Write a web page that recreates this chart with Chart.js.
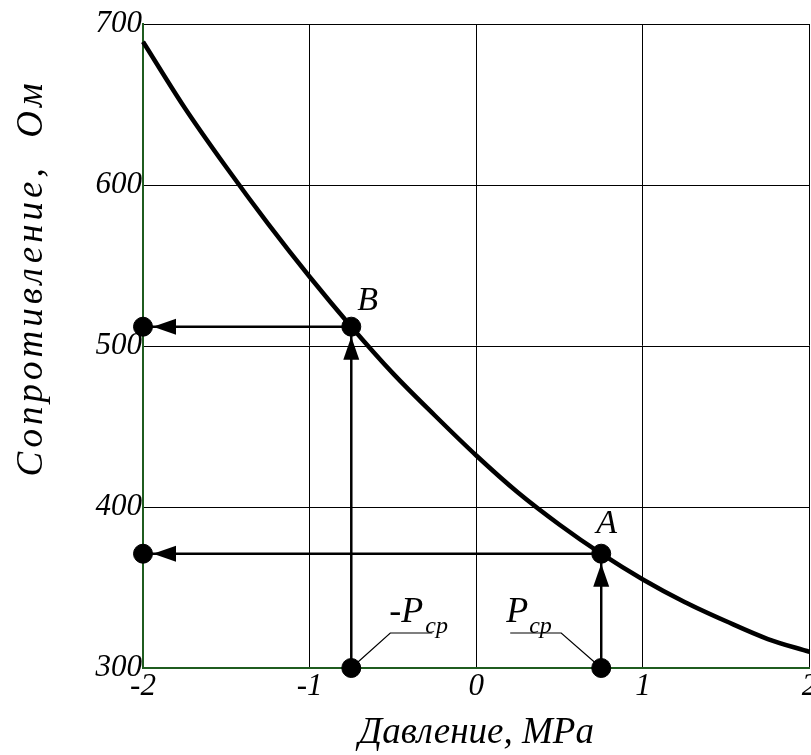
<!DOCTYPE html>
<html>
<head>
<meta charset="utf-8">
<script src="https://cdn.jsdelivr.net/npm/chart.js@4.4.1/dist/chart.umd.min.js"></script>
<style>
  html, body { margin: 0; padding: 0; background: #fff; overflow: hidden; }
  canvas { display: block; }
</style>
</head>
<body>
<canvas id="chart" width="820" height="755" style="width:820px;height:755px"></canvas>
<script>
// pressure, MPa
const pressure = [-2, -1.75, -1.5, -1.25, -1, -0.75, -0.5, -0.25, 0, 0.25, 0.5, 0.75, 1, 1.25, 1.5, 1.75, 2];
// resistance, Ohm
const resistance = [689, 648, 611, 576, 543, 512, 483, 457, 432, 409, 389, 371, 355, 341, 329, 318, 310];

const xTicks = [-2, -1, 0, 1, 2];
const yTicks = [300, 400, 500, 600, 700];

// working points
const pointB = { x: -0.75, y: 512 };
const pointA = { x: 0.75, y: 371 };

const serif = "'Liberation Serif', 'Times New Roman', serif";
const green = '#1f5c1f';

const curve = pressure.map((p, i) => ({ x: p, y: resistance[i] }));

const guides = [
  [pointB, { x: xTicks[0], y: pointB.y }],
  [pointA, { x: xTicks[0], y: pointA.y }],
  [{ x: pointB.x, y: yTicks[0] }, pointB],
  [{ x: pointA.x, y: yTicks[0] }, pointA]
];

const dots = [
  pointB, pointA,
  { x: xTicks[0], y: pointB.y }, { x: xTicks[0], y: pointA.y },
  { x: pointB.x, y: yTicks[0] }, { x: pointA.x, y: yTicks[0] }
];

// arrow heads, labels and axis titles
const arrowsAndLabels = {
  id: 'arrowsAndLabels',
  afterDatasetsDraw(chart) {
    const { ctx, scales: { x, y } } = chart;
    ctx.save();
    ctx.fillStyle = '#000';
    ctx.strokeStyle = '#000';

    guides.forEach(([from, to]) => {
      const x1 = x.getPixelForValue(from.x), y1 = y.getPixelForValue(from.y);
      const x2 = x.getPixelForValue(to.x), y2 = y.getPixelForValue(to.y);
      const len = Math.hypot(x2 - x1, y2 - y1);
      const ux = (x2 - x1) / len, uy = (y2 - y1) / len;
      const tx = x2 - ux * 10, ty = y2 - uy * 10;
      const bx = tx - ux * 23, by = ty - uy * 23;
      ctx.beginPath();
      ctx.moveTo(tx, ty);
      ctx.lineTo(bx - uy * 8, by + ux * 8);
      ctx.lineTo(bx + uy * 8, by - ux * 8);
      ctx.closePath();
      ctx.fill();
    });

    // point letters
    ctx.font = 'italic 34px ' + serif;
    ctx.textBaseline = 'alphabetic';
    ctx.textAlign = 'left';
    ctx.fillText('B', x.getPixelForValue(pointB.x) + 6, y.getPixelForValue(pointB.y) - 17);
    ctx.fillText('A', x.getPixelForValue(pointA.x) - 5, y.getPixelForValue(pointA.y) - 21);

    // -Pcp and Pcp with leaders
    const yb = y.getPixelForValue(yTicks[0]);
    const xl = x.getPixelForValue(pointB.x);
    const xr = x.getPixelForValue(pointA.x);
    ctx.lineWidth = 1.2;
    ctx.beginPath();
    ctx.moveTo(xl, yb); ctx.lineTo(xl + 39, yb - 35); ctx.lineTo(xl + 81, yb - 35);
    ctx.moveTo(xr, yb); ctx.lineTo(xr - 40, yb - 35); ctx.lineTo(xr - 91, yb - 35);
    ctx.stroke();

    ctx.font = 'italic 36px ' + serif;
    ctx.fillText('-P', xl + 38, yb - 46);
    ctx.fillText('P', xr - 95, yb - 46);
    ctx.font = 'italic 24px ' + serif;
    ctx.fillText('cp', xl + 74, yb - 35);
    ctx.fillText('cp', xr - 72, yb - 35);

    // axis titles
    ctx.font = 'italic 37px ' + serif;
    ctx.textAlign = 'center';
    ctx.fillText('Давление, MPa', x.getPixelForValue(0), 743);
    ctx.translate(42, 278);
    ctx.rotate(-Math.PI / 2);
    ctx.letterSpacing = '4px';
    ctx.fillText('Сопротивление,  Ом', 0, 0);
    ctx.restore();
  }
};

const guideSets = guides.map(seg => ({
  type: 'line',
  data: seg,
  borderColor: '#000',
  borderWidth: 2.5,
  pointRadius: 0,
  clip: false
}));

new Chart(document.getElementById('chart'), {
  type: 'line',
  data: {
    datasets: [
      ...guideSets,
      {
        label: 'curve',
        data: curve,
        borderColor: '#000',
        borderWidth: 4.5,
        pointRadius: 0,
        cubicInterpolationMode: 'monotone',
        clip: false
      },
      {
        type: 'scatter',
        data: dots,
        backgroundColor: '#000',
        borderColor: '#000',
        pointRadius: 9.5,
        clip: false
      }
    ]
  },
  options: {
    responsive: false,
    animation: false,
    layout: { padding: { top: 24, right: 8, left: 0, bottom: 0 } },
    plugins: { legend: { display: false }, tooltip: { enabled: false } },
    scales: {
      x: {
        type: 'linear',
        min: xTicks[0],
        max: xTicks[xTicks.length - 1],
        afterBuildTicks: s => { s.ticks = xTicks.map(v => ({ value: v })); },
        afterFit: s => { s.height = 87; },
        grid: { color: '#000', lineWidth: 1, drawTicks: false },
        border: { color: green, width: 2 },
        ticks: { color: '#000', padding: 0, font: { family: serif, style: 'italic', size: 31 } }
      },
      y: {
        type: 'linear',
        min: yTicks[0],
        max: yTicks[yTicks.length - 1],
        afterBuildTicks: s => { s.ticks = yTicks.map(v => ({ value: v })); },
        afterFit: s => { s.width = 143; },
        grid: { color: '#000', lineWidth: 1, drawTicks: false },
        border: { color: green, width: 2 },
        ticks: { color: '#000', padding: 1, font: { family: serif, style: 'italic', size: 31 } }
      }
    }
  },
  plugins: [arrowsAndLabels]
});
</script>
</body>
</html>
